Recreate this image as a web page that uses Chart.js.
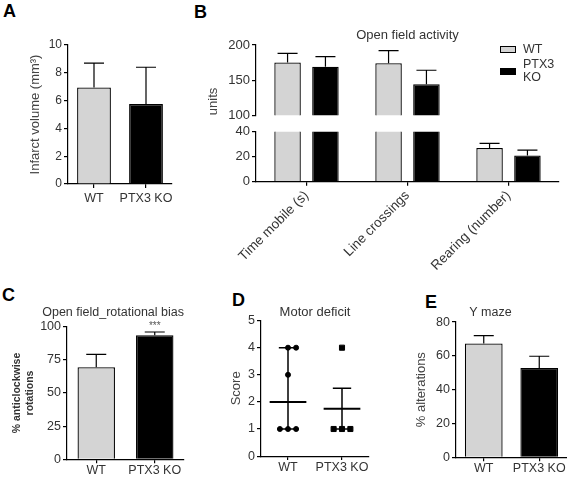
<!DOCTYPE html>
<html>
<head>
<meta charset="utf-8">
<script src="https://cdn.jsdelivr.net/npm/chart.js@4.4.1/dist/chart.umd.min.js"></script>
<style>
  body { margin: 0; width: 567px; height: 477px; overflow: hidden; background: #fff; position: relative;
         font-family: 'Liberation Sans', Arial, sans-serif; }
  canvas { position: absolute; }
  .tag { position: absolute; font-size: 18px; font-weight: bold; line-height: 1; color: #000; }
  #legendB { position: absolute; left: 500px; top: 43px; font-size: 12.5px; color: #333; }
  #legendB .row { display: flex; align-items: center; margin-bottom: 2px; }
  #legendB .box { width: 14px; height: 5px; border: 1px solid #000; margin-right: 7px; }
  #legendB .txt { width: 34px; line-height: 13px; }
</style>
</head>
<body>

<div class="tag" style="left:3px;top:2px">A</div>
<div class="tag" style="left:194px;top:3px">B</div>
<div class="tag" style="left:2px;top:286px">C</div>
<div class="tag" style="left:232px;top:291px">D</div>
<div class="tag" style="left:425px;top:293px">E</div>

<canvas id="chartA" width="190" height="240" style="left:0;top:0"></canvas>
<canvas id="chartBTop" width="377" height="125" style="left:190px;top:0"></canvas>
<canvas id="chartBLow" width="377" height="169" style="left:190px;top:121px"></canvas>
<canvas id="chartC" width="200" height="197" style="left:0;top:280px"></canvas>
<canvas id="chartD" width="190" height="197" style="left:200px;top:280px"></canvas>
<canvas id="chartE" width="190" height="197" style="left:390px;top:280px"></canvas>
<div id="legendB"></div>

<script>
const groups = ['WT', 'PTX3 KO'];

// A - infarct volume (bar = mean, err = top of error bar)
const infarctMean = [6.95, 5.75];
const infarctErr = [8.7, 8.4];
const infarctTicks = [0, 2, 4, 6, 8, 10];

// B - open field activity, broken axis
const openFieldLabels = ['Time mobile (s)', 'Line crossings', 'Rearing (number)'];
const openFieldWT = [175, 174, 27];
const openFieldWTErr = [188, 192, 30.6];
const openFieldKO = [169, 144, 21];
const openFieldKOErr = [183.5, 164, 25.3];
const openFieldTopTicks = [100, 150, 200];
const openFieldLowTicks = [0, 20, 40];

// C - rotational bias
const rotationMean = [69.5, 93.5];
const rotationErr = [79.2, 96];
const rotationSig = ['', '***'];
const rotationTicks = [0, 25, 50, 75, 100];

// D - motor deficit scores
const wtScores = [4, 4, 3, 1, 1, 1];
const wtJitter = [0, 0.15, 0, -0.15, 0, 0.15];
const koScores = [4, 1, 1, 1];
const koJitter = [0, -0.155, 0, 0.155];
const scoreCenter = [2, 1.75];
const scoreLow = [1, 1];
const scoreHigh = [4, 2.5];
const scoreTicks = [0, 1, 2, 3, 4, 5];

// E - Y maze
const mazeMean = [67.3, 52.9];
const mazeErr = [72, 59.8];
const mazeTicks = [0, 20, 40, 60, 80];


const wtFill = '#d4d4d4';
const koFill = '#000000';
const textColor = '#333';

Chart.defaults.font.family = "'Liberation Sans', Arial, sans-serif";
Chart.defaults.color = textColor;
Chart.defaults.animation = false;
Chart.defaults.responsive = false;
Chart.defaults.plugins.legend.display = false;
Chart.defaults.plugins.tooltip.enabled = false;


// Error bars (upwards only) + significance stars
const errorBars = {
    id: 'errorBars',
    afterDatasetsDraw(chart, args, opts) {
        if (!opts || !opts.tops) return;
        const ctx = chart.ctx;
        ctx.save();
        ctx.strokeStyle = '#000';
        ctx.lineWidth = 1.2;
        opts.tops.forEach((tops, di) => {
            const meta = chart.getDatasetMeta(di);
            const yScale = chart.scales[meta.yAxisID];
            meta.data.forEach((bar, i) => {
                const top = tops[i];
                if (top > yScale.max || top < yScale.min) return;
                const y = yScale.getPixelForValue(top);
                const yBar = Math.min(bar.y, chart.chartArea.bottom);
                ctx.beginPath();
                ctx.moveTo(bar.x, yBar);
                ctx.lineTo(bar.x, y);
                ctx.moveTo(bar.x - opts.cap / 2, y);
                ctx.lineTo(bar.x + opts.cap / 2, y);
                ctx.stroke();

                if (opts.labels && opts.labels[di] && opts.labels[di][i]) {
                    ctx.fillStyle = '#555';
                    ctx.font = "10px 'Liberation Sans', Arial, sans-serif";
                    ctx.textAlign = 'center';
                    ctx.textBaseline = 'bottom';
                    ctx.fillText(opts.labels[di][i], bar.x, y - 1);
                }
            });
        });
        ctx.restore();
    }
};

// Median / whisker lines for the dot plot
const summaryLines = {
    id: 'summaryLines',
    beforeDatasetsDraw(chart, args, opts) {
        if (!opts || !opts.center) return;
        const { ctx, scales: { x, y } } = chart;
        ctx.save();
        ctx.strokeStyle = '#000';
        opts.center.forEach((c, i) => {
            const pos = i + 1;
            ctx.lineWidth = 1.5;
            ctx.beginPath();
            ctx.moveTo(x.getPixelForValue(pos), y.getPixelForValue(opts.low[i]));
            ctx.lineTo(x.getPixelForValue(pos), y.getPixelForValue(opts.high[i]));
            [opts.low[i], opts.high[i]].forEach(v => {
                ctx.moveTo(x.getPixelForValue(pos - 0.17), y.getPixelForValue(v));
                ctx.lineTo(x.getPixelForValue(pos + 0.17), y.getPixelForValue(v));
            });
            ctx.stroke();
            ctx.lineWidth = 2;
            ctx.beginPath();
            ctx.moveTo(x.getPixelForValue(pos - 0.34), y.getPixelForValue(c));
            ctx.lineTo(x.getPixelForValue(pos + 0.34), y.getPixelForValue(c));
            ctx.stroke();
        });
        ctx.restore();
    }
};

Chart.register(errorBars, summaryLines);


// Axis helpers
const setTicks = values => scale => { scale.ticks = values.map(v => ({ value: v })); };

const yAxis = (ticks, width, size, title) => ({
    min: ticks[0],
    max: ticks[ticks.length - 1],
    afterBuildTicks: setTicks(ticks),
    afterFit: scale => { scale.width = width; },
    border: { color: '#000', width: 1.2 },
    grid: { drawOnChartArea: false, color: '#000', lineWidth: 1.2, tickLength: 4 },
    ticks: { color: textColor, font: { size: size }, padding: 2 },
    title: title ? {
        display: true,
        text: title.text,
        align: title.align || 'center',
        color: title.color || '#444',
        font: { size: title.size, weight: title.weight || 'normal', lineHeight: title.lineHeight || 1.2 },
        padding: 0
    } : { display: false }
});

const xAxis = (height, size, pad, rotation) => ({
    afterFit: scale => { scale.height = height; },
    border: { color: '#000', width: 1.2 },
    grid: { drawOnChartArea: false, offset: false, color: '#000', lineWidth: 1.2, tickLength: 4 },
    ticks: { color: textColor, font: { size: size }, padding: pad, autoSkip: false,
             maxRotation: rotation || 0, minRotation: rotation || 0 }
});

const chartTitle = (text, size, bottom, fullSize, align) => ({
    display: true,
    text: text,
    color: textColor,
    font: { size: size, weight: 'normal' },
    padding: { top: 0, bottom: bottom },
    fullSize: fullSize,
    align: align || 'center'
});

const groupBars = (values, pct) => ({
    data: values,
    backgroundColor: [wtFill, koFill],
    borderColor: '#000',
    borderWidth: 1.3,
    barPercentage: pct,
    categoryPercentage: 1
});


// A
new Chart(document.getElementById('chartA'), {
    type: 'bar',
    data: { labels: groups, datasets: [groupBars(infarctMean, 0.65)] },
    options: {
        layout: { padding: { left: 28, right: 18, top: 45, bottom: 26 } },
        scales: {
            x: xAxis(30, 12.5, 3),
            y: yAxis(infarctTicks, 40, 12, { text: 'Infarct volume (mm³)', size: 13 })
        },
        plugins: { errorBars: { tops: [infarctErr], cap: 20 } }
    }
});


// B - two stacked charts make the broken axis
const openFieldSets = () => [
    { label: 'WT', data: openFieldWT, backgroundColor: wtFill, borderColor: '#000', borderWidth: 1.3,
      barPercentage: 0.7, categoryPercentage: 0.75, clip: 0 },
    { label: 'PTX3 KO', data: openFieldKO, backgroundColor: koFill, borderColor: '#000', borderWidth: 1.3,
      barPercentage: 0.7, categoryPercentage: 0.75, clip: 0 }
];

new Chart(document.getElementById('chartBTop'), {
    type: 'bar',
    data: { labels: openFieldLabels, datasets: openFieldSets() },
    options: {
        layout: { padding: { left: 16, right: 8, top: 27.2, bottom: 3.3 } },
        scales: {
            x: { display: false },
            y: yAxis(openFieldTopTicks, 50, 13, { text: 'units', size: 13, align: 'start' })
        },
        plugins: {
            title: chartTitle('Open field activity', 13, 2.2, false),
            errorBars: { tops: [openFieldWTErr, openFieldKOErr], cap: 20 }
        }
    }
});

const chartBLow = new Chart(document.getElementById('chartBLow'), {
    type: 'bar',
    data: { labels: openFieldLabels, datasets: openFieldSets() },
    options: {
        layout: { padding: { left: 16, right: 8, top: 10.7, bottom: 8.3 } },
        scales: {
            x: xAxis(100, 13.5, 2, 45),
            y: yAxis(openFieldLowTicks, 50, 13)
        },
        plugins: { errorBars: { tops: [openFieldWTErr, openFieldKOErr], cap: 20 } }
    }
});

// legend for B
const legendB = document.getElementById('legendB');
chartBLow.data.datasets.forEach(ds => {
    legendB.innerHTML += `<div class="row"><div class="box" style="background:${ds.backgroundColor}"></div><div class="txt">${ds.label}</div></div>`;
});


// C
new Chart(document.getElementById('chartC'), {
    type: 'bar',
    data: { labels: groups, datasets: [groupBars(rotationMean, 0.64)] },
    options: {
        layout: { padding: { left: 10.5, right: 16, top: 25.2, bottom: 0 } },
        scales: {
            x: xAxis(17.7, 12.5, 0),
            y: yAxis(rotationTicks, 56.5, 12.5,
                { text: ['% anticlockwise', 'rotations'], size: 10.5, weight: 'bold', lineHeight: 1.25, color: '#333' })
        },
        plugins: {
            title: chartTitle('Open field_rotational bias', 12.5, 6.5, true, 'end'),
            errorBars: { tops: [rotationErr], cap: 20, labels: [rotationSig] }
        }
    }
});


// D
new Chart(document.getElementById('chartD'), {
    type: 'scatter',
    data: {
        datasets: [
            { data: wtScores.map((s, i) => ({ x: 1 + wtJitter[i], y: s })),
              pointStyle: 'circle', pointRadius: 2.5, backgroundColor: '#000', borderColor: '#000', borderWidth: 1 },
            { data: koScores.map((s, i) => ({ x: 2 + koJitter[i], y: s })),
              pointStyle: 'rect', pointRadius: 3.6, backgroundColor: '#000', borderColor: '#000', borderWidth: 1 }
        ]
    },
    options: {
        layout: { padding: { left: 28.9, right: 21, top: 24.2, bottom: 0.9 } },
        scales: {
            x: Object.assign(xAxis(20, 12.5, 0), {
                type: 'linear', min: 0.5, max: 2.5,
                afterBuildTicks: setTicks([1, 2]),
                ticks: { color: textColor, font: { size: 12.5 }, padding: 0, maxRotation: 0, minRotation: 0,
                         callback: v => groups[v - 1] }
            }),
            y: yAxis(scoreTicks, 32.1, 12.5, { text: 'Score', size: 13 })
        },
        plugins: {
            title: chartTitle('Motor deficit', 13, 0.8, false),
            summaryLines: { center: scoreCenter, low: scoreLow, high: scoreHigh }
        }
    }
});


// E
new Chart(document.getElementById('chartE'), {
    type: 'bar',
    data: { labels: groups, datasets: [groupBars(mazeMean, 0.68)] },
    options: {
        layout: { padding: { left: 23.9, right: 13, top: 25.2, bottom: 0 } },
        scales: {
            x: xAxis(19.7, 12.5, 0),
            y: yAxis(mazeTicks, 42.1, 12.5, { text: '% alterations', size: 13 })
        },
        plugins: {
            title: chartTitle('Y maze', 12.5, 1.9, true),
            errorBars: { tops: [mazeErr], cap: 20 }
        }
    }
});
</script>
</body>
</html>
